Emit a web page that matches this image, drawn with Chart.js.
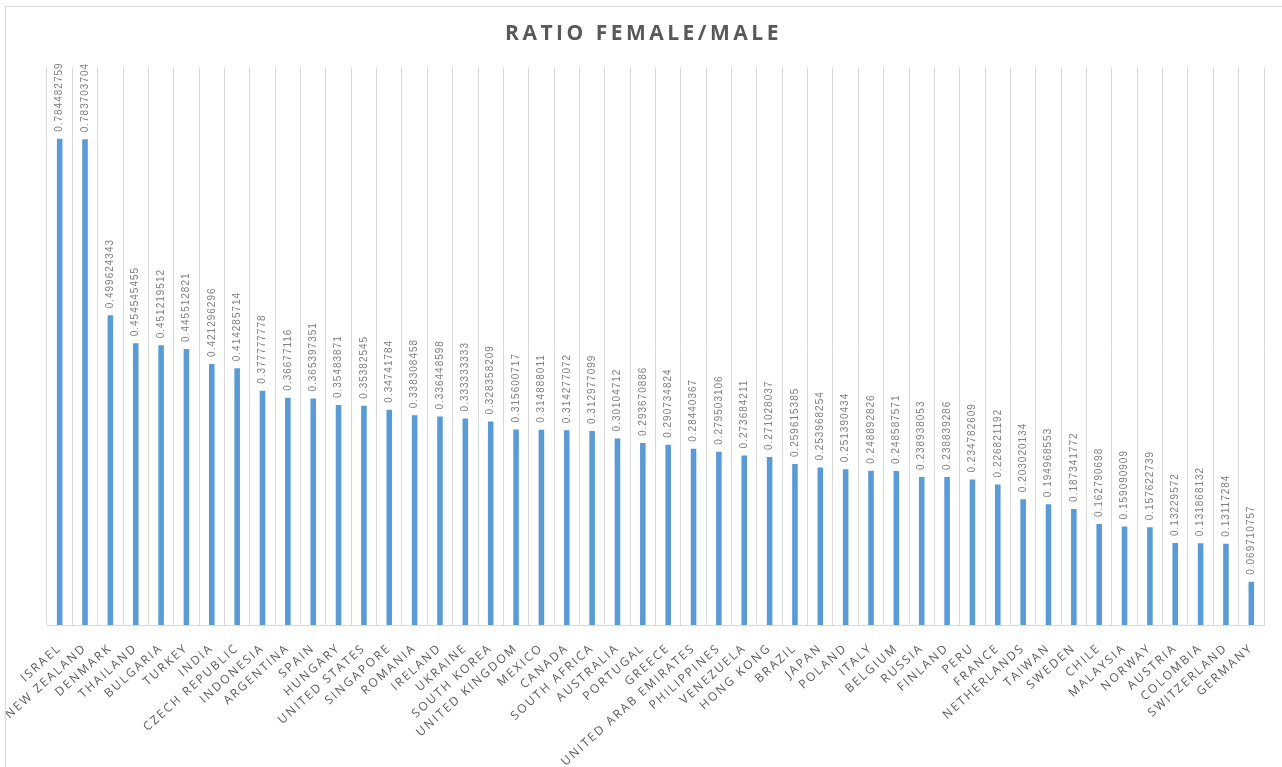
<!DOCTYPE html>
<html lang="en">
<head>
    <meta charset="UTF-8">
    <title>Ratio Female/Male</title>
    <script src="https://cdn.jsdelivr.net/npm/chart.js"></script>
    <style>
        body { margin: 0; background: #ffffff; }
        #wrap { position: relative; width: 1282px; height: 767px; }
        #frame {
            position: absolute; left: 5px; top: 6px; right: 0; bottom: 0;
            border-left: 1px solid #d9d9d9; border-top: 1px solid #d9d9d9;
            pointer-events: none;
        }
    </style>
</head>
<body>
<div id="wrap">
    <canvas id="ratioChart" width="1282" height="767"></canvas>
    <div id="frame"></div>
</div>

<script>
    // countries, sorted as in the original sheet
    const countries = [
        'ISRAEL', 'NEW ZEALAND', 'DENMARK', 'THAILAND', 'BULGARIA', 'TURKEY', 'INDIA',
        'CZECH REPUBLIC', 'INDONESIA', 'ARGENTINA', 'SPAIN', 'HUNGARY', 'UNITED STATES',
        'SINGAPORE', 'ROMANIA', 'IRELAND', 'UKRAINE', 'SOUTH KOREA', 'UNITED KINGDOM',
        'MEXICO', 'CANADA', 'SOUTH AFRICA', 'AUSTRALIA', 'PORTUGAL', 'GREECE',
        'UNITED ARAB EMIRATES', 'PHILIPPINES', 'VENEZUELA', 'HONG KONG', 'BRAZIL', 'JAPAN',
        'POLAND', 'ITALY', 'BELGIUM', 'RUSSIA', 'FINLAND', 'PERU', 'FRANCE', 'NETHERLANDS',
        'TAIWAN', 'SWEDEN', 'CHILE', 'MALAYSIA', 'NORWAY', 'AUSTRIA', 'COLOMBIA',
        'SWITZERLAND', 'GERMANY'
    ];

    const ratios = [
        0.784482759, 0.783703704, 0.499624343, 0.454545455, 0.451219512, 0.445512821,
        0.421296296, 0.414285714, 0.377777778, 0.36677116, 0.365397351, 0.35483871,
        0.35382545, 0.34741784, 0.338308458, 0.336448598, 0.333333333, 0.328358209,
        0.315600717, 0.314888011, 0.314277072, 0.312977099, 0.30104712, 0.293670886,
        0.290734824, 0.28440367, 0.279503106, 0.273684211, 0.271028037, 0.259615385,
        0.253968254, 0.251390434, 0.248892826, 0.248587571, 0.238938053, 0.238839286,
        0.234782609, 0.226821192, 0.203020134, 0.194968553, 0.187341772, 0.162790698,
        0.159090909, 0.157622739, 0.13229572, 0.131868132, 0.13117284, 0.069710757
    ];

    const yMin = 0;
    const yMax = 0.9;

    // Chart.js has no letter-spacing option, so set it on the context
    const spacing = {
        id: 'spacing',
        beforeUpdate(chart) {
            chart.ctx.letterSpacing = '2px';
            const tb = chart.titleBlock;
            if (tb && !tb._spaced) {
                const draw = tb.draw.bind(tb);
                tb.draw = function () {
                    const c = chart.ctx;
                    const old = c.letterSpacing;
                    c.save();
                    c.translate(-12, 0); // centre on the page, not on the plot
                    c.letterSpacing = '3.5px';
                    draw();
                    c.restore();
                    c.letterSpacing = old;
                };
                tb._spaced = true;
            }
        },
        beforeDraw(chart) { chart.ctx.letterSpacing = '2px'; }
    };

    // vertical value labels above each bar
    const valueLabels = {
        id: 'valueLabels',
        afterDatasetsDraw(chart) {
            const ctx = chart.ctx;
            const meta = chart.getDatasetMeta(0);
            ctx.save();
            ctx.letterSpacing = '1px';
            ctx.font = '10px "Liberation Sans", Arial, sans-serif';
            ctx.fillStyle = '#7f7f7f';
            ctx.textAlign = 'left';
            ctx.textBaseline = 'middle';
            meta.data.forEach((bar, i) => {
                ctx.save();
                ctx.translate(bar.x, bar.y - 7);
                ctx.rotate(-Math.PI / 2);
                ctx.fillText(String(ratios[i]), 0, 0);
                ctx.restore();
            });
            ctx.restore();
        }
    };

    const ctx = document.getElementById('ratioChart').getContext('2d');
    new Chart(ctx, {
        type: 'bar',
        data: {
            labels: countries,
            datasets: [{
                label: 'Ratio female/male',
                data: ratios,
                backgroundColor: '#5b9bd5',
                borderWidth: 0,
                categoryPercentage: 1,
                barPercentage: 0.22
            }]
        },
        options: {
            responsive: false,
            animation: false,
            layout: {
                padding: { left: 47, right: 18, top: 0, bottom: 0 }
            },
            scales: {
                x: {
                    grid: {
                        color: '#d9d9d9',
                        offset: true,
                        drawTicks: false
                    },
                    border: { color: '#d9d9d9' },
                    ticks: {
                        autoSkip: false,
                        maxRotation: 42,
                        minRotation: 42,
                        padding: 16,
                        color: '#595959',
                        font: { size: 12, family: '"Open Sans", sans-serif' }
                    },
                    afterFit(scale) { scale.height = 142; }
                },
                y: {
                    display: false,
                    min: yMin,
                    max: yMax
                }
            },
            plugins: {
                legend: { display: false },
                tooltip: { enabled: false },
                title: {
                    display: true,
                    text: 'RATIO FEMALE/MALE',
                    color: '#595959',
                    font: { size: 21, weight: 'bold', family: '"Open Sans", sans-serif' },
                    padding: { top: 21, bottom: 21 }
                }
            }
        },
        plugins: [spacing, valueLabels]
    });
</script>
</body>
</html>
